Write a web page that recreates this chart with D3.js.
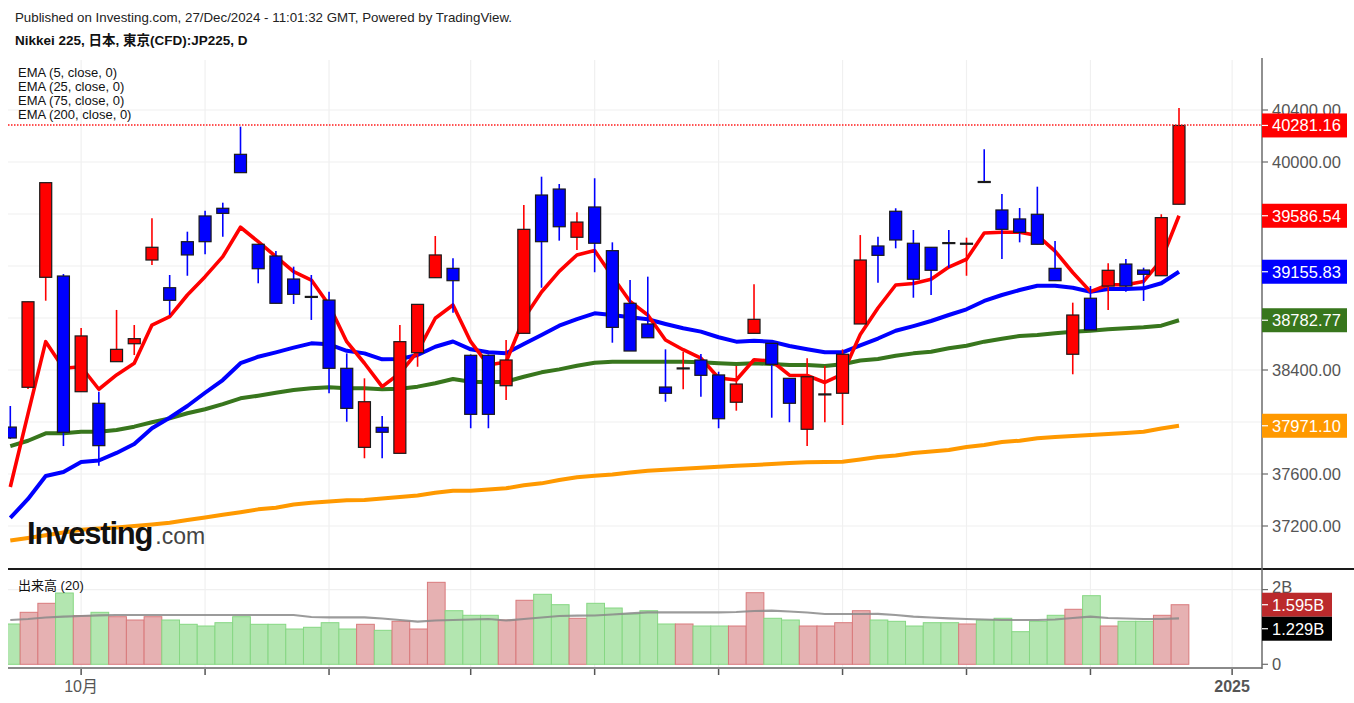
<!DOCTYPE html>
<html><head><meta charset="utf-8">
<script src="https://cdn.jsdelivr.net/npm/d3@7"></script>
<style>
body{margin:0;background:#fff;}
svg{display:block;font-family:Arial,"Liberation Sans","Noto Sans CJK JP",sans-serif;}
</style>
</head><body>
<svg id="chart" width="1354" height="703"></svg>
<script>
// ---------------- data ----------------
const dates = ["2024-09-25","2024-09-26","2024-09-27","2024-09-30",
"2024-10-01","2024-10-02","2024-10-03","2024-10-04","2024-10-07","2024-10-08","2024-10-09","2024-10-10","2024-10-11",
"2024-10-14","2024-10-15","2024-10-16","2024-10-17","2024-10-18","2024-10-21","2024-10-22","2024-10-23","2024-10-24",
"2024-10-25","2024-10-28","2024-10-29","2024-10-30","2024-10-31",
"2024-11-01","2024-11-04","2024-11-05","2024-11-06","2024-11-07","2024-11-08","2024-11-11","2024-11-12","2024-11-13",
"2024-11-14","2024-11-15","2024-11-18","2024-11-19","2024-11-20","2024-11-21","2024-11-22","2024-11-25","2024-11-26",
"2024-11-27","2024-11-28","2024-11-29",
"2024-12-02","2024-12-03","2024-12-04","2024-12-05","2024-12-06","2024-12-09","2024-12-10","2024-12-11","2024-12-12",
"2024-12-13","2024-12-16","2024-12-17","2024-12-18","2024-12-19","2024-12-20","2024-12-23","2024-12-24","2024-12-26","2024-12-27"];

const open  = [37961,38267,39113,39123,38233,38144,38464,38602,39246,39033,39387,39585,39644,40059,39367,39277,39100,38966,38938,38413,
37805,37959,37759,38533,39110,39182,38513,38513,38279,38682,39746,39792,39421,39654,39318,38913,38754,38269,38410,38477,
38362,38152,38682,38605,38336,37944,38210,38221,38754,39354,39621,39375,39344,39380,39369,39850,39631,39562,39598,39182,
38521,38952,39046,39215,39169,39125,39675];
const high  = [38123,38925,39841,39138,38723,38233,38862,38746,39567,39131,39464,39625,39687,40272,39367,39315,39195,39131,39002,38528,
38336,38046,38746,38905,39431,39259,38520,38520,38631,39669,39887,39831,39613,39875,39382,39092,39118,38559,38541,38523,
38387,38431,39059,38605,38336,38490,38431,38559,39438,39425,39644,39477,39344,39477,39418,40098,39754,39646,39810,39392,
38918,39046,39221,39254,39187,39598,40415];
const low   = [37870,38254,38933,37815,38233,37664,38464,38515,39208,38823,39125,39290,39425,39918,39067,38913,38908,38785,38221,38002,
37721,37721,37759,38425,39110,38841,37952,37952,38169,38682,39033,39395,39323,39152,38610,38546,38648,38156,38252,38195,
37952,38087,38682,38033,37998,37815,37998,37977,38754,39072,39336,38956,38977,39187,39125,39846,39254,39382,39367,39087,
38367,38708,38862,39002,38931,39125,39675];
const close = [37877,38925,39841,37921,38662,37818,38559,38641,39344,38936,39285,39387,39605,39918,39179,38913,38982,38962,38413,38105,
38156,37921,38618,38905,39285,39087,38059,38059,38477,39482,39387,39502,39538,39375,38728,38546,38648,38221,38416,38359,
38025,38292,38790,38444,38144,38348,38216,38521,39246,39282,39400,39098,39167,39374,39375,39846,39482,39459,39367,39087,
38823,38708,39167,39046,39136,39572,40281.16];

const ema5   = [37500,38062,38618,38413,38425,38252,38362,38452,38746,38810,38977,39118,39272,39498,39387,39272,39156,39092,38900,38618,
38452,38272,38375,38541,38798,38900,38618,38438,38462,38796,39000,39159,39285,39319,39119,38927,38823,38631,38556,38491,
38338,38323,38479,38469,38360,38358,38304,38369,38673,38877,39054,39065,39098,39192,39252,39454,39460,39460,39435,39315,
39150,39003,39056,39056,39081,39245,39586.54];
const ema25  = [37262,37408,37585,37615,37692,37704,37762,37831,37952,38033,38123,38225,38323,38452,38502,38536,38572,38605,38598,38548,
38528,38482,38485,38515,38579,38619,38559,38536,38528,38600,38669,38741,38792,38836,38823,38805,38790,38754,38721,38695,
38652,38618,38625,38618,38585,38559,38536,38536,38589,38642,38702,38738,38777,38823,38867,38931,38977,39015,39048,39048,
39033,39002,39023,39023,39028,39067,39155.83];
const ema75  = [37815,37856,37913,37913,37925,37925,37938,37964,37998,38028,38067,38098,38138,38182,38202,38225,38246,38259,38267,38259,
38259,38252,38256,38272,38298,38331,38310,38305,38310,38348,38382,38405,38433,38456,38464,38464,38464,38464,38464,38459,
38452,38446,38452,38446,38438,38438,38431,38444,38473,38485,38510,38528,38541,38567,38587,38618,38641,38662,38669,38682,
38695,38702,38713,38721,38728,38741,38782.77];
const ema200 = [37088,37108,37129,37150,37171,37181,37189,37200,37211,37225,37246,37266,37287,37306,37328,37341,37366,37378,37389,37398,
37400,37412,37423,37435,37455,37471,37472,37481,37490,37513,37528,37554,37575,37586,37596,37612,37625,37632,37640,37648,
37656,37663,37669,37677,37685,37690,37692,37695,37712,37731,37742,37762,37773,37785,37808,37823,37846,37856,37875,37885,
37892,37900,37908,37915,37925,37950,37971.10];

// volume in billions
const volume = [1.079,1.392,1.633,1.909,1.301,1.392,1.274,1.186,1.274,1.186,1.071,1.025,1.114,1.274,1.071,1.071,0.945,0.991,1.114,0.945,
1.071,0.910,1.151,0.945,2.195,1.435,1.312,1.312,1.186,1.714,1.874,1.596,1.232,1.633,1.507,1.347,1.435,1.079,1.079,1.025,
1.025,1.025,1.917,1.232,1.186,1.025,1.025,1.114,1.435,1.186,1.151,1.025,1.114,1.114,1.079,1.186,1.232,0.873,1.151,1.312,
1.473,1.837,1.025,1.151,1.151,1.312,1.595];
const volMA = [1.186,1.213,1.253,1.274,1.293,1.312,1.320,1.320,1.320,1.320,1.320,1.320,1.320,1.320,1.320,1.320,1.320,1.266,1.258,1.258,
1.258,1.226,1.186,1.141,1.173,1.186,1.199,1.213,1.173,1.213,1.253,1.293,1.301,1.306,1.333,1.365,1.392,1.392,1.392,1.392,
1.392,1.400,1.427,1.435,1.414,1.387,1.347,1.347,1.347,1.352,1.320,1.274,1.253,1.232,1.213,1.199,1.186,1.186,1.186,1.199,
1.240,1.274,1.240,1.226,1.213,1.213,1.229];

const priceTicks = [37200,37600,38000,38400,38800,39200,39600,40000,40400];
const volTicks = [0,1,2];
const volTickLabels = ["0","1B","2B"];
const xTickIndex = [4,11,18,26,33,40,47,54,61,69];
const xTickLabels = ["10月","","","","","","","","","2025"];
const legendLabels = ["EMA (5, close, 0)","EMA (25, close, 0)","EMA (75, close, 0)","EMA (200, close, 0)"];
const titleText = "Published on Investing.com, 27/Dec/2024 - 11:01:32 GMT, Powered by TradingView.";
const subtitleText = "Nikkei 225, 日本, 東京(CFD):JP225, D";
const volumeTitle = "出来高 (20)";

// ---------------- layout ----------------
const W = 1354, H = 703;
const paneL = 8, paneR = 1262;
const priceTop = 58, priceBot = 568;
const volTop = 570, volBot = 667;
const C = {up:"#ff0000", down:"#0000ff", e5:"#ff0000", e25:"#0000ff", e75:"#38761d", e200:"#ff9900",
  volUpFill:"#e6b1b2", volUpStroke:"#d97a7c", volDnFill:"#b3e6b0", volDnStroke:"#86d783",
  grid:"#f0f0f0", axis:"#6b6b6b", tickText:"#555"};

const svg = d3.select("#chart");
svg.append("rect").attr("width",W).attr("height",H).attr("fill","#fff");

const x = d3.scaleLinear().domain([0, dates.length-1]).range([10.3, 1179]);
const step = x(1)-x(0);
const y = d3.scaleLinear().domain([37200, 40400]).range([526, 110]);
const yv = d3.scaleLinear().domain([0, 2]).range([664.3, 589.6]);

const defs = svg.append("defs");
defs.append("clipPath").attr("id","clipP").append("rect")
  .attr("x",paneL).attr("y",priceTop).attr("width",paneR-paneL).attr("height",priceBot-priceTop);
defs.append("clipPath").attr("id","clipV").append("rect")
  .attr("x",paneL).attr("y",volTop).attr("width",paneR-paneL).attr("height",volBot-volTop);

// gridlines
const grid = svg.append("g");
grid.selectAll("line.v").data(xTickIndex).join("line")
  .attr("x1",d=>x(d)).attr("x2",d=>x(d)).attr("y1",priceTop+2).attr("y2",volBot)
  .attr("stroke",C.grid).attr("stroke-width",1.2);
grid.selectAll("line.h").data(priceTicks).join("line")
  .attr("x1",paneL).attr("x2",paneR).attr("y1",d=>y(d)).attr("y2",d=>y(d))
  .attr("stroke",C.grid).attr("stroke-width",1.2);
grid.selectAll("line.hv").data([2]).join("line")
  .attr("x1",paneL).attr("x2",paneR).attr("y1",d=>yv(d)).attr("y2",d=>yv(d))
  .attr("stroke",C.grid).attr("stroke-width",1.2);

// header
svg.append("text").attr("x",15).attr("y",22).attr("font-size",13.3).attr("fill","#222").text(titleText);
svg.append("text").attr("x",15).attr("y",45).attr("font-size",13.5).attr("font-weight","bold").attr("fill","#111").text(subtitleText);

// price pane
const pp = svg.append("g").attr("clip-path","url(#clipP)");

const line = arr => d3.line().x((d,i)=>x(i)).y(d=>y(d))(arr);
[[ema200,C.e200,4],[ema75,C.e75,4],[ema25,C.e25,4],[ema5,C.e5,3.6]].forEach(([arr,col,w])=>{
  pp.append("path").attr("d",line(arr)).attr("fill","none").attr("stroke",col)
    .attr("stroke-width",w).attr("stroke-linejoin","round");
});

// logo
const logo = svg.append("text").attr("x",27).attr("y",543.5);
logo.append("tspan").attr("font-size",31).attr("font-weight",900).attr("letter-spacing",-1.2).attr("fill","#111").text("Investing");
logo.append("tspan").attr("font-size",23).attr("fill","#444").attr("dx",3).text(".com");

// candles
const idx = d3.range(dates.length);
const isUp = i => close[i] >= open[i];
const cg = pp.append("g");
cg.selectAll("line.wick").data(idx).join("line")
  .attr("x1",i=>x(i)).attr("x2",i=>x(i)).attr("y1",i=>y(high[i])).attr("y2",i=>y(low[i]))
  .attr("stroke",i=>isUp(i)?C.up:C.down).attr("stroke-width",1.6);
const bodyW = 12;
cg.selectAll("rect.body").data(idx).join("rect")
  .attr("x",i=>x(i)-bodyW/2).attr("width",bodyW)
  .attr("y",i=>y(Math.max(open[i],close[i])))
  .attr("height",i=>Math.max(1, Math.abs(y(open[i])-y(close[i]))))
  .attr("fill",i=>isUp(i)?C.up:C.down).attr("stroke","#1a1a1a").attr("stroke-width",1.2);

// current price dotted line (drawn above marks, as in the reference)
const lastClose = close[close.length-1];
const lcY = Math.round(y(lastClose));
pp.append("line").attr("x1",paneL).attr("x2",paneR).attr("y1",lcY).attr("y2",lcY)
  .attr("stroke","#ff1a1a").attr("stroke-width",1.4).attr("stroke-dasharray","1.5,1.5");

// legend
svg.append("g").selectAll("text").data(legendLabels).join("text")
  .attr("x",18).attr("y",(d,i)=>77+i*14).attr("font-size",13).attr("fill","#111").text(d=>d);

// volume pane
const vp = svg.append("g").attr("clip-path","url(#clipV)");
vp.selectAll("rect").data(idx).join("rect")
  .attr("x",i=>x(i)-step/2+1).attr("width",step)
  .attr("y",i=>yv(volume[i])).attr("height",i=>yv(0)-yv(volume[i]))
  .attr("fill",i=>isUp(i)?C.volUpFill:C.volDnFill)
  .attr("stroke",i=>isUp(i)?C.volUpStroke:C.volDnStroke).attr("stroke-width",1);
vp.append("path").attr("d",d3.line().x((d,i)=>x(i)).y(d=>yv(d))(volMA))
  .attr("fill","none").attr("stroke","#8a8a8a").attr("stroke-opacity",0.85).attr("stroke-width",2.2);
svg.append("text").attr("x",18).attr("y",590).attr("font-size",13).attr("fill","#111").text(volumeTitle);

// separators / axes
svg.append("line").attr("x1",paneL).attr("x2",W).attr("y1",569).attr("y2",569).attr("stroke","#1a1a1a").attr("stroke-width",2);
svg.append("line").attr("x1",paneL).attr("x2",paneR).attr("y1",668).attr("y2",668).attr("stroke","#8a8a8a").attr("stroke-width",2);
svg.append("line").attr("x1",paneR).attr("x2",paneR).attr("y1",priceTop).attr("y2",669).attr("stroke",C.axis).attr("stroke-width",1.5);

// x axis ticks & labels
const xa = svg.append("g");
xa.selectAll("line").data(xTickIndex).join("line")
  .attr("x1",d=>x(d)).attr("x2",d=>x(d)).attr("y1",669).attr("y2",675)
  .attr("stroke","#555").attr("stroke-width",1.5);
xa.selectAll("text").data(xTickIndex).join("text")
  .attr("x",d=>x(d)).attr("y",692).attr("text-anchor","middle").attr("font-size",16)
  .attr("font-weight",(d,i)=>xTickLabels[i]==="2025"?"bold":"normal")
  .attr("fill","#555").text((d,i)=>xTickLabels[i]);

// price value labels
const priceLabels = [
  {v:lastClose, c:"#ff0000"},
  {v:ema5[ema5.length-1], c:C.e5},
  {v:ema25[ema25.length-1], c:C.e25},
  {v:ema75[ema75.length-1], c:C.e75},
  {v:ema200[ema200.length-1], c:C.e200}
];
const fmt = d3.format(".2f");
const ya = svg.append("g");
ya.selectAll("line").data(priceTicks).join("line")
  .attr("x1",paneR).attr("x2",paneR+6).attr("y1",d=>y(d)).attr("y2",d=>y(d)).attr("stroke",C.axis).attr("stroke-width",1.2);
const visibleTicks = priceTicks.filter(t => priceLabels.every(l => Math.abs(y(t)-y(l.v)) > 14));
ya.selectAll("text").data(visibleTicks).join("text")
  .attr("x",paneR+10).attr("y",d=>y(d)+6).attr("font-size",16.5).attr("fill",C.tickText).text(d=>fmt(d));

const lab = svg.append("g");
priceLabels.forEach(l=>{
  const cy = y(l.v);
  lab.append("rect").attr("x",paneR).attr("y",cy-12).attr("width",85).attr("height",24).attr("fill",l.c);
  lab.append("line").attr("x1",paneR).attr("x2",paneR+6).attr("y1",cy).attr("y2",cy).attr("stroke","#fff").attr("stroke-width",1.2);
  lab.append("text").attr("x",paneR+10).attr("y",cy+6).attr("font-size",16.5).attr("fill","#fff").text(fmt(l.v));
});

// volume axis
const va = svg.append("g");
va.selectAll("line").data(volTicks).join("line")
  .attr("x1",paneR).attr("x2",paneR+6).attr("y1",d=>yv(d)).attr("y2",d=>yv(d)).attr("stroke",C.axis).attr("stroke-width",1.2);
const lastVol = volume[volume.length-1], lastMA = volMA[volMA.length-1];
const vl1 = yv(lastVol), vl2 = Math.max(yv(lastMA), vl1+24);
const visVol = volTicks.filter(t => Math.abs(yv(t)-vl1) > 12 && Math.abs(yv(t)-vl2) > 12);
va.selectAll("text").data(visVol).join("text")
  .attr("x",paneR+10).attr("y",d=>yv(d)+(d===2?3:6)).attr("font-size",16.5).attr("fill",C.tickText)
  .text(d=>volTickLabels[volTicks.indexOf(d)]);
const vfmt = v => d3.format(".3f")(v)+"B";
[[vl1,"#bb2a2c",lastVol],[vl2,"#000",lastMA]].forEach(([cy,col,v])=>{
  svg.append("rect").attr("x",paneR).attr("y",cy-12).attr("width",70).attr("height",24).attr("fill",col);
  svg.append("line").attr("x1",paneR).attr("x2",paneR+6).attr("y1",cy).attr("y2",cy).attr("stroke","#fff").attr("stroke-width",1.2);
  svg.append("text").attr("x",paneR+10).attr("y",cy+6).attr("font-size",16.5).attr("fill","#fff").text(vfmt(v));
});
</script>
</body></html>
